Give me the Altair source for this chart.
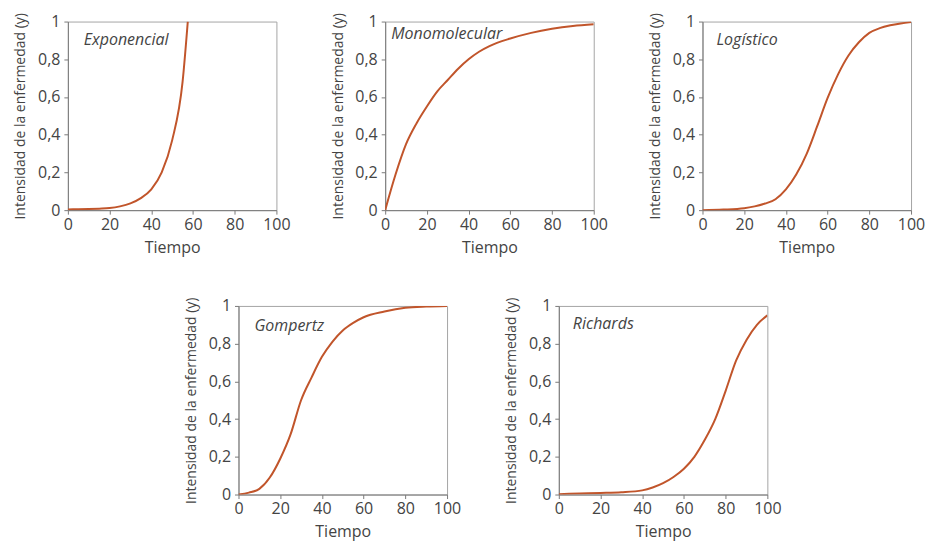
import altair as alt
import pandas as pd

# ---- data ----
names = ["Exponencial", "Monomolecular", "Logístico", "Gompertz", "Richards"]

exp_t = [0, 5, 10, 15, 20, 25, 30, 35, 40, 45, 50, 55, 57.5]
exp_y = [0.004, 0.005, 0.006, 0.008, 0.011, 0.02, 0.036, 0.064, 0.11, 0.2, 0.37, 0.68, 1.0]

mono_t = [0, 5, 10, 15, 20, 25, 30, 35, 40, 45, 50, 60, 70, 80, 90, 100]
mono_y = [0, 0.19, 0.35, 0.46, 0.55, 0.63, 0.69, 0.75, 0.80, 0.84, 0.87, 0.91, 0.94, 0.962, 0.977, 0.986]

log_t = [0, 10, 20, 25, 30, 35, 40, 45, 50, 55, 60, 65, 70, 75, 80, 85, 90, 95, 100]
log_y = [0.0, 0.003, 0.01, 0.02, 0.035, 0.058, 0.11, 0.19, 0.30, 0.445, 0.595, 0.72, 0.82, 0.89, 0.94, 0.965, 0.98, 0.99, 0.997]

gomp_t = [0, 5, 10, 15, 20, 25, 30, 35, 40, 45, 50, 55, 60, 70, 80, 90, 100]
gomp_y = [0, 0.01, 0.03, 0.09, 0.19, 0.32, 0.50, 0.62, 0.73, 0.81, 0.87, 0.91, 0.94, 0.97, 0.99, 0.997, 1.0]

rich_t = [0, 10, 20, 30, 40, 45, 50, 55, 60, 65, 70, 75, 80, 85, 90, 95, 100]
rich_y = [0.002, 0.005, 0.008, 0.012, 0.022, 0.037, 0.06, 0.093, 0.137, 0.2, 0.29, 0.40, 0.55, 0.71, 0.82, 0.90, 0.95]

x_ticks = [0, 20, 40, 60, 80, 100]
y_ticks = [0, 0.2, 0.4, 0.6, 0.8, 1]

CURVE = "#c1552b"
FONT = "Open Sans"
W, H = 209, 189


def panel(name, ts, ys, tx, ty):
    df = pd.DataFrame({"t": ts, "y": ys})
    line = alt.Chart(df).mark_line(color=CURVE, strokeWidth=2, clip=True, interpolate="monotone").encode(
        x=alt.X("t:Q", scale=alt.Scale(domain=[0, 100], nice=False),
                axis=alt.Axis(values=x_ticks, title="Tiempo", labelPadding=2, titlePadding=7,
                              labelFlush=False, labelOverlap=False)),
        y=alt.Y("y:Q", scale=alt.Scale(domain=[0, 1], nice=False),
                axis=alt.Axis(values=y_ticks, title="Intensidad de la enfermedad (y)",
                              labelExpr="datum.value == 0 ? '0' : (datum.value == 1 ? '1' : replace(format(datum.value, '.1f'), '.', ','))",
                              labelFlush=False, labelOverlap=False,
                              labelPadding=4, minExtent=32, maxExtent=32, titlePadding=8, titleFontSize=14)),
    )
    lab = alt.Chart(pd.DataFrame({"n": [name]})).mark_text(
        font=FONT, fontSize=16, fontStyle="italic", color="#444444", align="left", baseline="middle"
    ).encode(text="n:N", x=alt.value(tx), y=alt.value(ty))
    return alt.layer(line, lab).properties(width=W, height=H)


p1 = panel(names[0], exp_t, exp_y, 16, 18)
p2 = panel(names[1], mono_t, mono_y, 6, 12)
p3 = panel(names[2], log_t, log_y, 14, 18)
p4 = panel(names[3], gomp_t, gomp_y, 16, 20)
p5 = panel(names[4], rich_t, rich_y, 14, 18)

spacer = alt.Chart(pd.DataFrame({"a": [0]})).mark_point(opacity=0).properties(
    width=59, height=H, view=alt.ViewBackground(strokeOpacity=0)
)

top = alt.hconcat(p1, p2, p3, spacing=109, bounds="flush")
bottom = alt.hconcat(spacer, p4, p5, spacing=112, bounds="flush")
chart = alt.vconcat(top, bottom, spacing=40).properties(
    padding={"left": 5, "top": 3, "right": 5, "bottom": 5}
).configure_axis(
    labelFont=FONT, labelFontSize=16, labelColor="#444444",
    titleFont=FONT, titleFontSize=16, titleColor="#444444", titleFontWeight="normal",
    domainColor="#7a7a7a", tickColor="#7a7a7a", tickSize=4, grid=False,
).configure_view(stroke="#a5a5a5")

chart.save("out.html", embed_options={"renderer": "svg", "actions": False})
